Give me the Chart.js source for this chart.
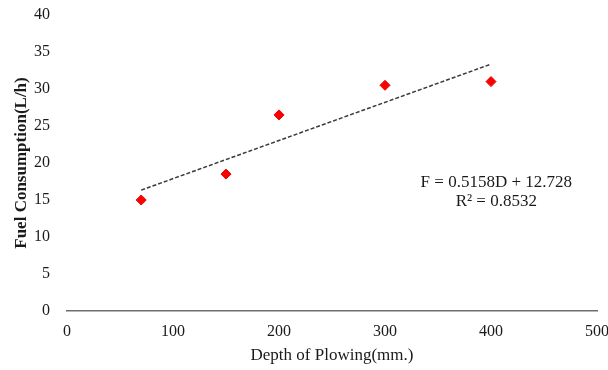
<!DOCTYPE html>
<html>
<head>
<meta charset="utf-8">
<script src="https://cdn.jsdelivr.net/npm/chart.js@4/dist/chart.umd.min.js"></script>
<style>
  html, body { margin: 0; padding: 0; background: #fff; }
  #wrap { width: 608px; height: 370px; }
</style>
</head>
<body>
<div id="wrap"><canvas id="fuelChart" width="608" height="370"></canvas></div>
<script>
// measured points: depth of plowing (mm) vs fuel consumption (L/h)
let depth = [70, 150, 200, 300, 400];
let fuel = [15, 18.5, 26.5, 30.5, 31];

// trend line as printed on the chart (D in cm, so slope per mm is /10)
let trendSlope = 0.5158;
let trendIntercept = 12.728;
let trendRSq = 0.8532;
let trendEnds = [70, 400];

let xTicks = [0, 100, 200, 300, 400, 500];
let yTicks = [0, 5, 10, 15, 20, 25, 30, 35, 40];

let serif = "'Liberation Serif', 'Times New Roman', serif";
let textColor = "#1a1a1a";

let trendData = trendEnds.map(d => ({ x: d, y: trendSlope * d / 10 + trendIntercept }));

// equation text next to the trend line
let equationLabel = {
  id: "equationLabel",
  afterDatasetsDraw(chart) {
    let { ctx, scales } = chart;
    let px = scales.x.getPixelForValue(405);
    let py = scales.y.getPixelForValue(17.3);
    ctx.save();
    ctx.font = "17px " + serif;
    ctx.fillStyle = textColor;
    ctx.textAlign = "center";
    ctx.textBaseline = "middle";
    ctx.fillText("F = " + trendSlope + "D + " + trendIntercept, px, py);
    ctx.fillText("R\u00B2 = " + trendRSq, px, py + 19);
    ctx.restore();
  }
};

let ctx = document.getElementById("fuelChart").getContext("2d");

let chart = new Chart(ctx, {
  type: "scatter",
  data: {
    datasets: [{
      label: "Fuel consumption",
      data: depth.map((d, i) => ({ x: d, y: fuel[i] })),
      pointStyle: "rectRot",
      pointRadius: 5,
      backgroundColor: "#ff0000",
      borderColor: "#e00000",
      borderWidth: 1,
    }, {
      type: "line",
      label: "Linear trend",
      data: trendData,
      borderColor: "#3a3a3a",
      borderWidth: 1.5,
      borderDash: [4, 2],
      pointRadius: 0,
      fill: false,
    }]
  },
  options: {
    responsive: false,
    animation: false,
    layout: { padding: { top: 15, right: 11, bottom: 0, left: 0 } },
    plugins: { legend: { display: false }, tooltip: { enabled: false } },
    scales: {
      x: {
        type: "linear",
        min: 0,
        max: 500,
        afterBuildTicks: axis => { axis.ticks = xTicks.map(v => ({ value: v })); },
        grid: { display: false, drawTicks: false },
        border: { display: true, color: "#6e6e6e", width: 1.5 },
        ticks: { padding: 11, color: textColor, font: { family: serif, size: 16 } },
        title: {
          display: true,
          text: "Depth of Plowing(mm.)",
          color: textColor,
          font: { family: serif, size: 17 },
          padding: { top: 0, bottom: 4 }
        },
        afterFit: axis => {
          axis.height = 59;
          axis.paddingLeft = 0;
          axis.paddingRight = 0;
        }
      },
      y: {
        min: 0,
        max: 40,
        afterBuildTicks: axis => { axis.ticks = yTicks.map(v => ({ value: v })); },
        grid: { display: false, drawTicks: false },
        border: { display: false },
        ticks: { padding: 17, color: textColor, font: { family: serif, size: 16 } },
        title: {
          display: true,
          text: "Fuel Consumption(L/h)",
          color: textColor,
          font: { family: serif, size: 17, weight: "bold" },
          padding: { top: 11, bottom: 0 }
        },
        afterFit: axis => {
          axis.width = 67;
          axis.paddingTop = 0;
          axis.paddingBottom = 0;
        }
      }
    }
  },
  plugins: [equationLabel]
});
</script>
</body>
</html>
